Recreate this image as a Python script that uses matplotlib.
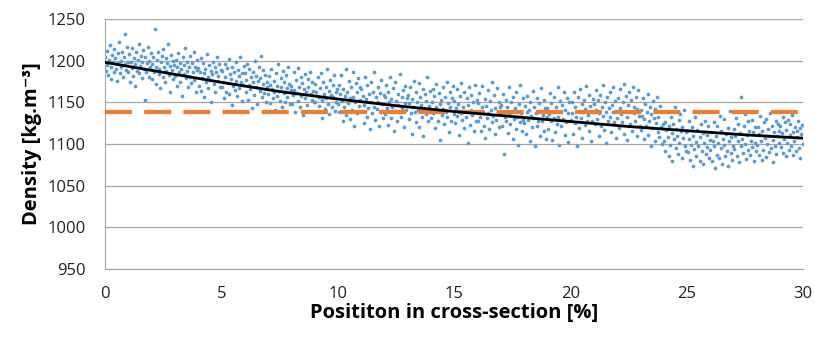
import numpy as np
import matplotlib.pyplot as plt

# measured density, one row per 1 % of cross-section position
density = [
    1205, 1188, 1212, 1195, 1183, 1201, 1219, 1192, 1178, 1207, 1198, 1186, 1214, 1203, 1190, 1176, 1209, 1197, 1222, 1185, 1200, 1193, 1211, 1181, 1204, 1232, 1196, 1189, 1216, 1199,
    1187, 1208, 1174, 1199, 1215, 1191, 1182, 1203, 1196, 1170, 1210, 1188, 1201, 1220, 1185, 1194, 1206, 1179, 1198, 1213, 1190, 1153, 1204, 1186, 1197, 1217, 1181, 1200, 1192, 1209,
    1196, 1178, 1205, 1187, 1238, 1193, 1172, 1201, 1211, 1184, 1190, 1167, 1199, 1206, 1181, 1214, 1192, 1175, 1203, 1188, 1197, 1220, 1183, 1194, 1163, 1207, 1189, 1200, 1178, 1195,
    1182, 1201, 1170, 1193, 1209, 1186, 1175, 1197, 1190, 1158, 1204, 1184, 1195, 1215, 1179, 1188, 1199, 1168, 1192, 1206, 1181, 1173, 1197, 1186, 1211, 1177, 1193, 1163, 1189, 1201,
    1191, 1170, 1186, 1203, 1164, 1179, 1197, 1185, 1156, 1190, 1174, 1208, 1181, 1167, 1195, 1177, 1188, 1150, 1184, 1199, 1172, 1193, 1162, 1187, 1205, 1176, 1182, 1196, 1168, 1189,
    1169, 1188, 1175, 1155, 1196, 1181, 1163, 1191, 1173, 1202, 1160, 1184, 1178, 1147, 1193, 1170, 1186, 1165, 1199, 1176, 1158, 1189, 1182, 1167, 1204, 1174, 1152, 1185, 1171, 1194,
    1185, 1162, 1177, 1196, 1153, 1171, 1190, 1166, 1180, 1143, 1187, 1174, 1159, 1200, 1169, 1182, 1148, 1176, 1193, 1164, 1179, 1206, 1157, 1172, 1189, 1161, 1183, 1151, 1175, 1168,
    1160, 1182, 1171, 1149, 1190, 1166, 1155, 1176, 1163, 1141, 1185, 1170, 1158, 1196, 1164, 1152, 1179, 1168, 1145, 1188, 1161, 1174, 1150, 1183, 1167, 1157, 1193, 1172, 1148, 1165,
    1170, 1148, 1159, 1186, 1165, 1139, 1177, 1161, 1152, 1191, 1168, 1144, 1180, 1158, 1173, 1135, 1166, 1184, 1155, 1162, 1147, 1178, 1169, 1140, 1187, 1160, 1153, 1175, 1164, 1150,
    1151, 1172, 1163, 1138, 1180, 1157, 1146, 1167, 1185, 1153, 1131, 1175, 1160, 1142, 1169, 1155, 1190, 1148, 1164, 1136, 1177, 1159, 1144, 1171, 1156, 1183, 1140, 1162, 1150, 1166,
    1148, 1171, 1139, 1160, 1183, 1152, 1127, 1166, 1144, 1158, 1190, 1135, 1163, 1149, 1176, 1130, 1155, 1168, 1141, 1186, 1157, 1122, 1150, 1173, 1162, 1137, 1179, 1146, 1153, 1169,
    1166, 1140, 1158, 1125, 1147, 1181, 1154, 1133, 1171, 1143, 1160, 1118, 1175, 1150, 1137, 1163, 1145, 1186, 1129, 1156, 1142, 1168, 1151, 1121, 1161, 1139, 1177, 1148, 1131, 1159,
    1136, 1157, 1171, 1143, 1123, 1162, 1150, 1180, 1131, 1154, 1145, 1167, 1116, 1140, 1174, 1152, 1128, 1160, 1147, 1138, 1184, 1133, 1156, 1143, 1165, 1120, 1149, 1170, 1141, 1155,
    1159, 1130, 1149, 1168, 1137, 1154, 1112, 1144, 1176, 1139, 1162, 1126, 1151, 1141, 1173, 1120, 1157, 1147, 1133, 1166, 1109, 1143, 1160, 1136, 1152, 1180, 1128, 1146, 1164, 1138,
    1131, 1150, 1166, 1137, 1158, 1119, 1145, 1172, 1140, 1127, 1161, 1148, 1105, 1153, 1135, 1169, 1142, 1124, 1157, 1139, 1175, 1132, 1149, 1114, 1163, 1144, 1128, 1155, 1170, 1136,
    1152, 1125, 1143, 1166, 1134, 1148, 1111, 1158, 1137, 1173, 1129, 1145, 1119, 1162, 1140, 1132, 1155, 1101, 1147, 1168, 1123, 1141, 1159, 1135, 1150, 1116, 1171, 1138, 1127, 1153,
    1128, 1149, 1161, 1133, 1115, 1144, 1170, 1139, 1122, 1154, 1107, 1146, 1131, 1165, 1137, 1118, 1152, 1141, 1126, 1175, 1134, 1159, 1112, 1143, 1129, 1167, 1138, 1120, 1150, 1145,
    1147, 1121, 1139, 1160, 1088, 1132, 1153, 1127, 1145, 1113, 1168, 1136, 1124, 1150, 1140, 1106, 1157, 1130, 1143, 1118, 1163, 1133, 1099, 1148, 1126, 1171, 1137, 1115, 1155, 1129,
    1125, 1146, 1112, 1138, 1158, 1129, 1141, 1103, 1151, 1134, 1120, 1164, 1131, 1144, 1097, 1137, 1122, 1155, 1128, 1149, 1110, 1140, 1167, 1127, 1135, 1116, 1153, 1143, 1106, 1132,
    1143, 1118, 1136, 1161, 1127, 1149, 1105, 1139, 1131, 1157, 1114, 1145, 1124, 1168, 1133, 1099, 1152, 1138, 1121, 1147, 1130, 1163, 1111, 1141, 1126, 1155, 1137, 1102, 1150, 1128,
    1129, 1151, 1137, 1112, 1162, 1125, 1144, 1133, 1098, 1156, 1140, 1119, 1166, 1131, 1148, 1107, 1138, 1153, 1123, 1142, 1170, 1128, 1135, 1115, 1159, 1146, 1104, 1139, 1127, 1154,
    1148, 1124, 1141, 1165, 1130, 1153, 1110, 1137, 1159, 1121, 1145, 1134, 1171, 1117, 1150, 1139, 1101, 1156, 1128, 1143, 1162, 1132, 1114, 1147, 1138, 1168, 1126, 1152, 1107, 1140,
    1131, 1155, 1119, 1143, 1166, 1136, 1126, 1150, 1172, 1112, 1140, 1158, 1133, 1105, 1147, 1162, 1124, 1139, 1153, 1116, 1169, 1137, 1145, 1128, 1157, 1109, 1142, 1165, 1134, 1121,
    1141, 1117, 1134, 1155, 1106, 1130, 1148, 1122, 1139, 1160, 1111, 1127, 1145, 1097, 1136, 1119, 1152, 1131, 1103, 1142, 1125, 1157, 1114, 1133, 1108, 1146, 1120, 1138, 1100, 1124,
    1104, 1126, 1092, 1117, 1139, 1108, 1085, 1121, 1099, 1133, 1113, 1080, 1124, 1106, 1144, 1095, 1118, 1110, 1088, 1129, 1101, 1136, 1115, 1083, 1120, 1107, 1141, 1097, 1114, 1091,
    1115, 1090, 1106, 1128, 1081, 1099, 1120, 1074, 1110, 1094, 1132, 1102, 1086, 1117, 1097, 1138, 1079, 1108, 1124, 1092, 1113, 1076, 1101, 1127, 1088, 1111, 1096, 1121, 1083, 1105,
    1093, 1114, 1079, 1104, 1126, 1097, 1071, 1110, 1087, 1121, 1101, 1083, 1134, 1095, 1116, 1076, 1106, 1099, 1130, 1085, 1112, 1091, 1119, 1074, 1103, 1140, 1089, 1108, 1081, 1098,
    1118, 1094, 1109, 1131, 1085, 1103, 1124, 1078, 1113, 1098, 1156, 1106, 1089, 1121, 1100, 1136, 1082, 1111, 1127, 1093, 1116, 1087, 1104, 1129, 1096, 1114, 1080, 1120, 1101, 1091,
    1099, 1120, 1087, 1112, 1134, 1103, 1081, 1116, 1093, 1126, 1107, 1084, 1130, 1100, 1118, 1090, 1110, 1137, 1095, 1122, 1105, 1078, 1114, 1097, 1128, 1088, 1109, 1124, 1101, 1115,
    1121, 1096, 1113, 1132, 1089, 1106, 1126, 1085, 1117, 1101, 1129, 1093, 1111, 1124, 1098, 1135, 1087, 1114, 1103, 1120, 1091, 1116, 1108, 1127, 1095, 1119, 1083, 1112, 1123, 1100,
]
position = np.linspace(0, 30, len(density))

# trend curve
trend_x = [0, 2.5, 5, 7.5, 10, 12.5, 15, 17.5, 20, 22.5, 25, 27.5, 30]
trend_y = [1198, 1186, 1174, 1163, 1154, 1146, 1139, 1133, 1127, 1121, 1116, 1111, 1107]

# mean density
mean_density = 1138

plt.rcParams["font.family"] = ["Open Sans", "DejaVu Sans"]

fig = plt.figure(figsize=(8.15, 3.4), dpi=100)
ax = fig.add_axes([0.129, 0.209, 0.856, 0.735])

ax.plot(position, density, "o", color="#5B9BD5", markersize=2.7, mec="none", zorder=2)
ax.axhline(mean_density, color="#ED7D31", linewidth=3, dashes=(6.5, 2.9), zorder=3)
ax.plot(trend_x, trend_y, color="black", linewidth=2, zorder=4)

ax.set_xlim(0, 30)
ax.set_ylim(950, 1250)
ax.set_xticks(range(0, 31, 5))
ax.set_yticks(range(950, 1251, 50))
ax.grid(axis="y", color="#A6A6A6", linewidth=0.9)
ax.set_axisbelow(True)
for side in ("top", "right"):
    ax.spines[side].set_visible(False)
for side in ("left", "bottom"):
    ax.spines[side].set_color("#A6A6A6")
ax.tick_params(length=0, labelsize=12, colors="#222222")
ax.tick_params(axis="y", pad=14)
ax.tick_params(axis="x", pad=12)

ax.set_xlabel("Posititon in cross-section [%]", fontsize=14.5, fontweight="bold", labelpad=1)
ax.set_ylabel("Density [kg.m⁻³]", fontsize=14.5, fontweight="bold", labelpad=4)

fig.savefig("out.png", dpi=100)
